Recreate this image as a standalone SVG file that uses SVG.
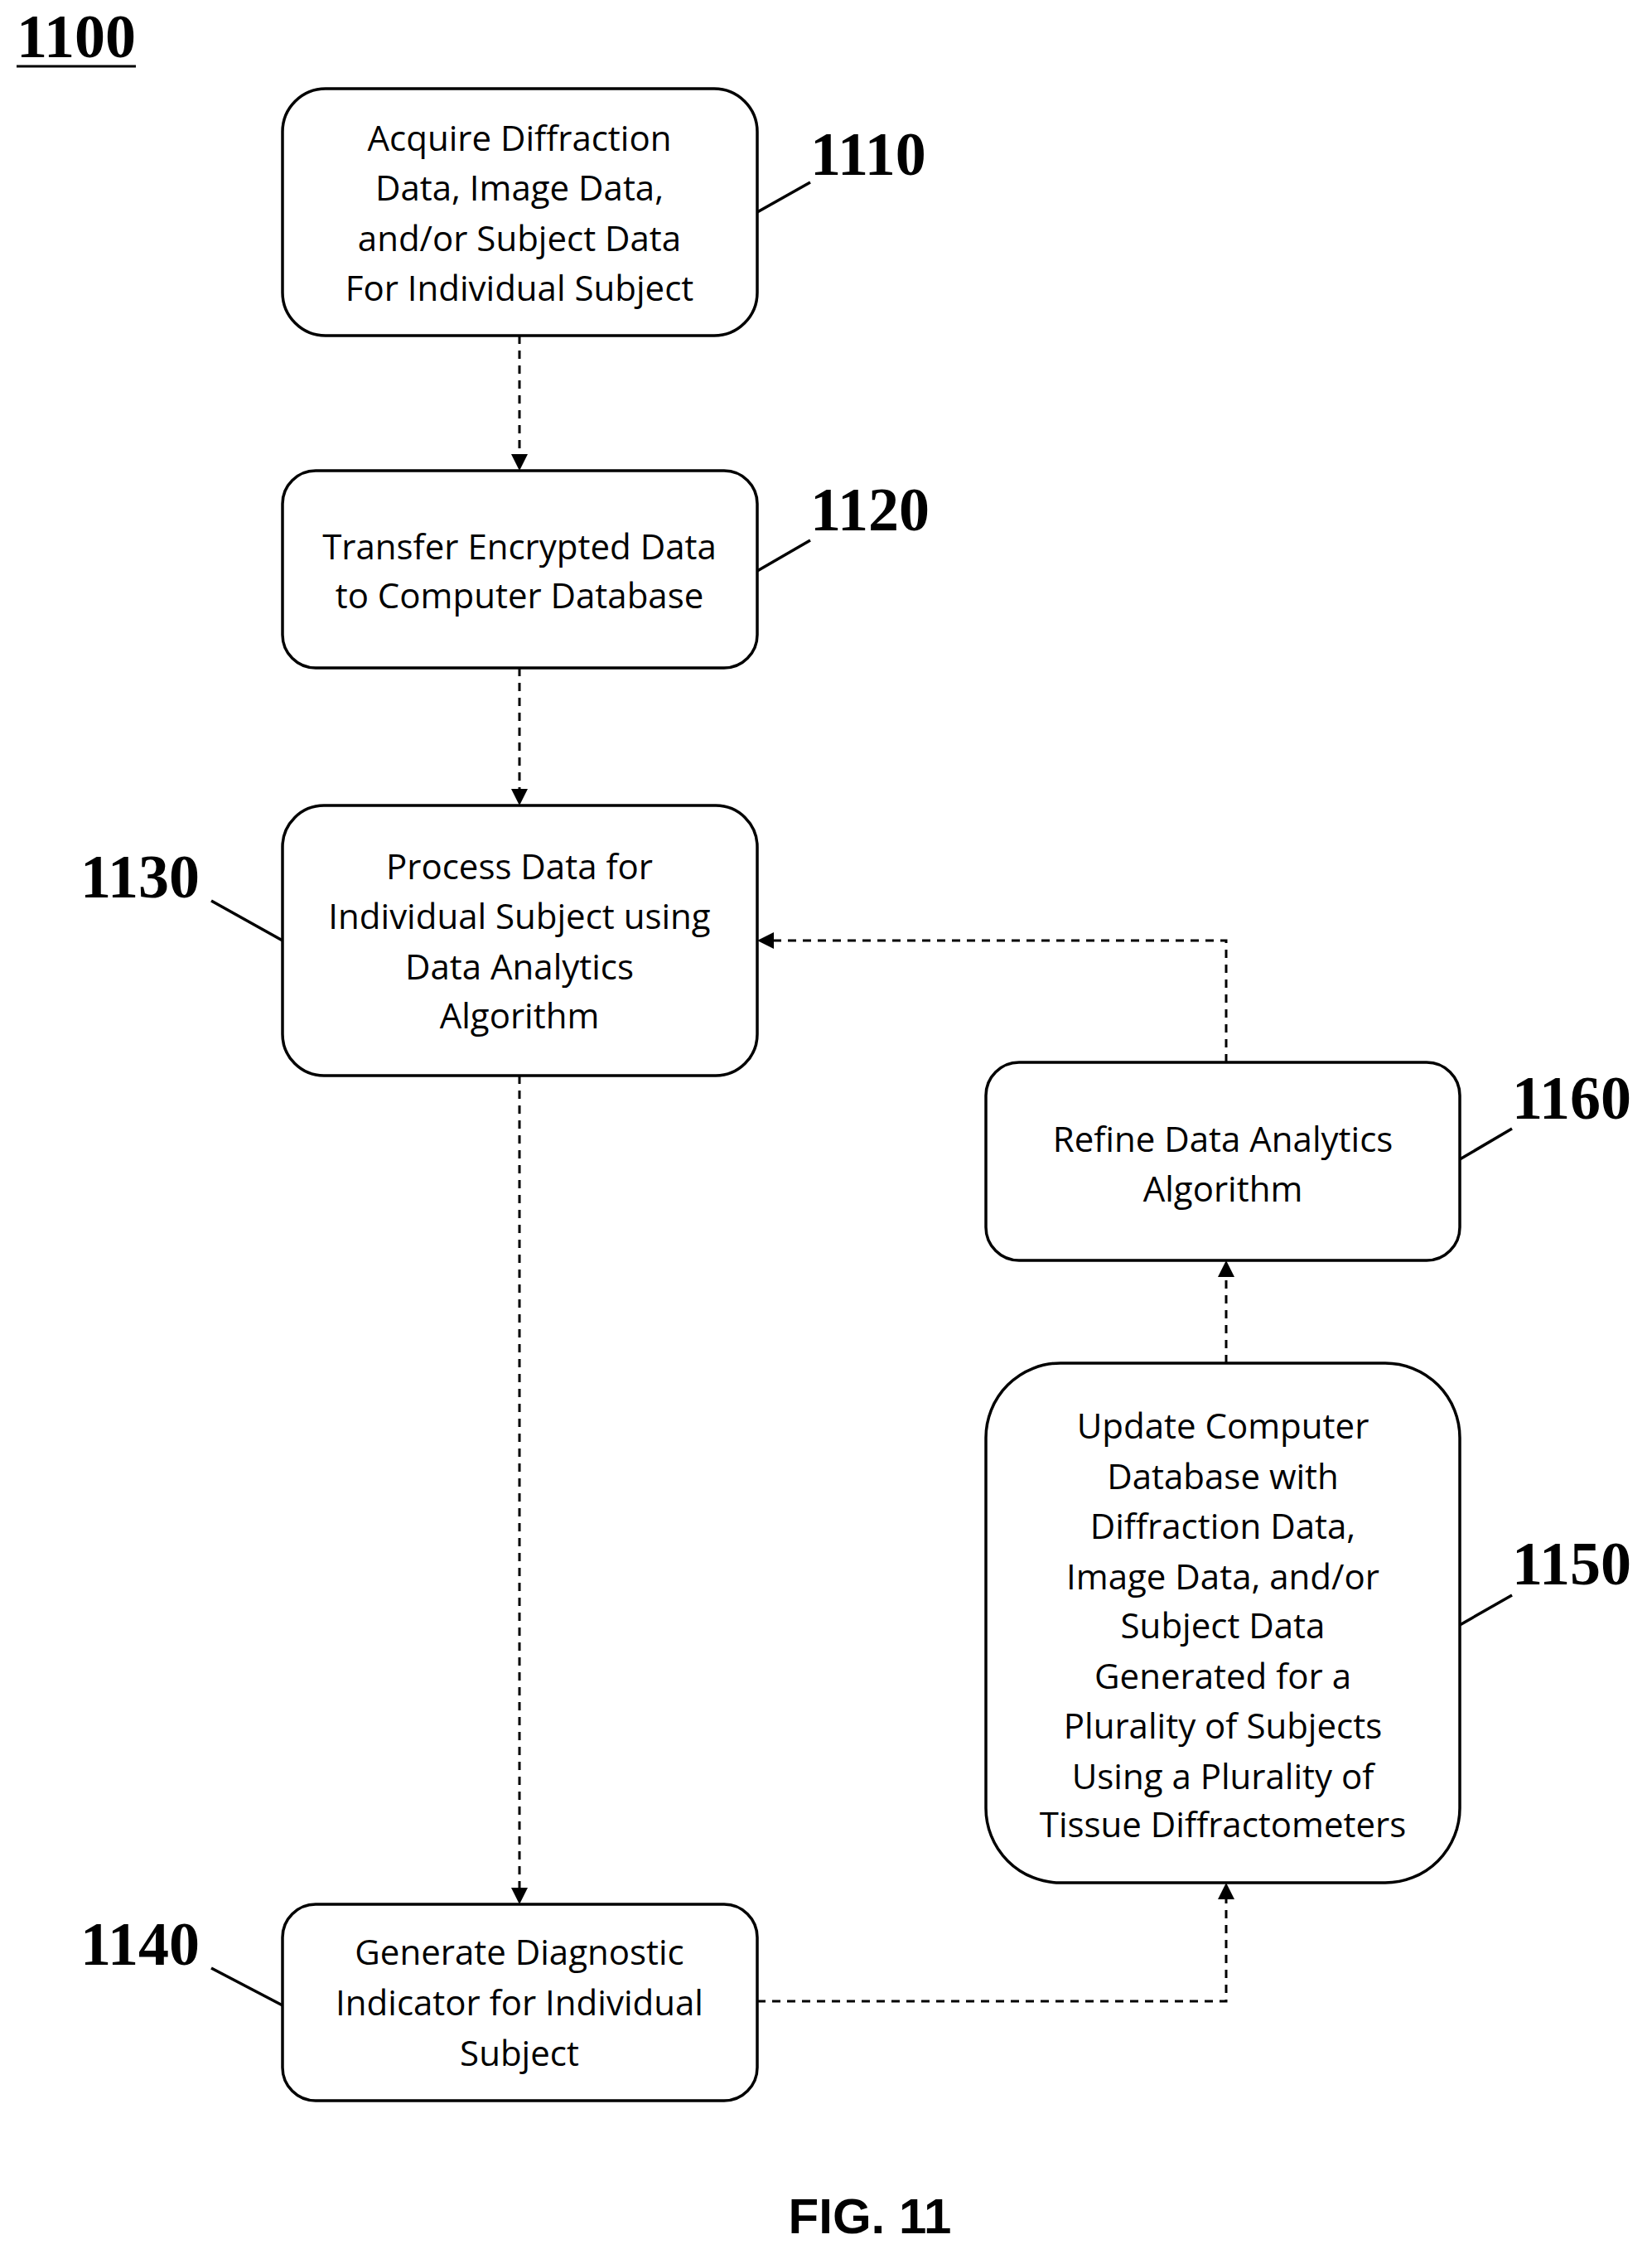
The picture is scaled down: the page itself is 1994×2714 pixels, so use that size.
<svg xmlns="http://www.w3.org/2000/svg" width="1994" height="2714" viewBox="0 0 1994 2714">
<style>
.box{fill:#fff;stroke:#000;stroke-width:3.5}
.t{font-family:"Open Sans","Liberation Sans",sans-serif;font-size:42px;text-anchor:middle;fill:#000}
.lab{font-family:"Liberation Serif",serif;font-weight:bold;font-size:74px;fill:#000}
.ld{stroke:#000;stroke-width:3.5;fill:none}
.c{stroke:#000;stroke-width:3;fill:none;stroke-dasharray:10 8}
</style>
<rect width="1994" height="2714" fill="#fff"/>
<g id="title"><text class="lab" x="20" y="69" font-size="64">1100</text><line x1="20" y1="80" x2="164" y2="80" stroke="#000" stroke-width="3"/></g>
<g id="connectors">
<path class="c" d="M627,405V556"/><path d="M617,548L627,568L637,548z"/>
<path class="c" d="M627,806V960"/><path d="M617,952L627,972L637,952z"/>
<path class="c" d="M627,1298V2286"/><path d="M617,2278L627,2298L637,2278z"/>
<path class="c" d="M914,2415H1480V2284"/><path d="M1470,2292L1480,2272L1490,2292z"/>
<path class="c" d="M1480,1645V1533"/><path d="M1470,1541L1480,1521L1490,1541z"/>
<path class="c" d="M1480,1282V1135H926"/><path d="M934,1125L914,1135L934,1145z"/>
</g>
<g id="n1110"><rect class="box" x="341" y="107" width="573" height="298" rx="52"/>
<text class="t" x="627" y="182">Acquire Diffraction</text><text class="t" x="627" y="242">Data, Image Data,</text><text class="t" x="627" y="303">and/or Subject Data</text><text class="t" x="627" y="363">For Individual Subject</text>
<line class="ld" x1="914" y1="256" x2="978" y2="220"/><text class="lab" x="978" y="211">1110</text></g>
<g id="n1120"><rect class="box" x="341" y="568" width="573" height="238" rx="40"/>
<text class="t" x="627" y="675">Transfer Encrypted Data</text><text class="t" x="627" y="734">to Computer Database</text>
<line class="ld" x1="914" y1="689" x2="978" y2="652"/><text class="lab" x="978" y="640">1120</text></g>
<g id="n1130"><rect class="box" x="341" y="972" width="573" height="326" rx="50"/>
<text class="t" x="627" y="1061">Process Data for</text><text class="t" x="627" y="1121">Individual Subject using</text><text class="t" x="627" y="1182">Data Analytics</text><text class="t" x="627" y="1241">Algorithm</text>
<line class="ld" x1="255" y1="1087" x2="341" y2="1135"/><text class="lab" x="241" y="1083" text-anchor="end">1130</text></g>
<g id="n1140"><rect class="box" x="341" y="2298" width="573" height="237" rx="40"/>
<text class="t" x="627" y="2371">Generate Diagnostic</text><text class="t" x="627" y="2432">Indicator for Individual</text><text class="t" x="627" y="2493">Subject</text>
<line class="ld" x1="255" y1="2375" x2="341" y2="2420"/><text class="lab" x="241" y="2371" text-anchor="end">1140</text></g>
<g id="n1160"><rect class="box" x="1190" y="1282" width="572" height="239" rx="40"/>
<text class="t" x="1476" y="1390">Refine Data Analytics</text><text class="t" x="1476" y="1450">Algorithm</text>
<line class="ld" x1="1762" y1="1399" x2="1825" y2="1362"/><text class="lab" x="1825" y="1350">1160</text></g>
<g id="n1150"><rect class="box" x="1190" y="1645" width="572" height="627" rx="90"/>
<text class="t" x="1476" y="1736">Update Computer</text><text class="t" x="1476" y="1797">Database with</text><text class="t" x="1476" y="1857">Diffraction Data,</text><text class="t" x="1476" y="1918">Image Data, and/or</text><text class="t" x="1476" y="1977">Subject Data</text><text class="t" x="1476" y="2038">Generated for a</text><text class="t" x="1476" y="2098">Plurality of Subjects</text><text class="t" x="1476" y="2159">Using a Plurality of</text><text class="t" x="1476" y="2217">Tissue Diffractometers</text>
<line class="ld" x1="1762" y1="1961" x2="1825" y2="1925"/><text class="lab" x="1825" y="1912">1150</text></g>
<text x="1050" y="2695" font-family="Liberation Sans,sans-serif" font-weight="bold" font-size="60" text-anchor="middle">FIG. 11</text>
</svg>
